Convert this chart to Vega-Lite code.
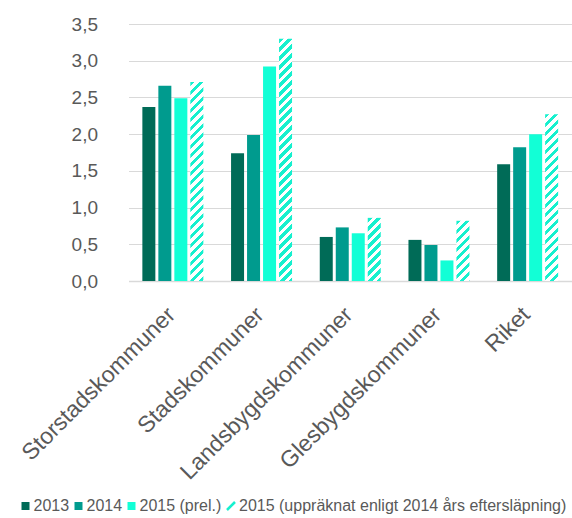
{
  "$schema": "https://vega.github.io/schema/vega-lite/v6.json",
  "autosize": "none",
  "padding": {"left": 128.5, "top": 24, "right": 0, "bottom": 237},
  "width": 443.5,
  "height": 257,
  "background": "white",
  "params": [
    {"name": "hatchStops", "value": [
      {"offset":0,"color":"#16f0ce"},{"offset":0.017241,"color":"#16f0ce"},{"offset":0.017241,"color":"#fff"},{"offset":0.034483,"color":"#fff"},
      {"offset":0.034483,"color":"#16f0ce"},{"offset":0.051724,"color":"#16f0ce"},{"offset":0.051724,"color":"#fff"},{"offset":0.068966,"color":"#fff"},
      {"offset":0.068966,"color":"#16f0ce"},{"offset":0.086207,"color":"#16f0ce"},{"offset":0.086207,"color":"#fff"},{"offset":0.103448,"color":"#fff"},
      {"offset":0.103448,"color":"#16f0ce"},{"offset":0.12069,"color":"#16f0ce"},{"offset":0.12069,"color":"#fff"},{"offset":0.137931,"color":"#fff"},
      {"offset":0.137931,"color":"#16f0ce"},{"offset":0.155172,"color":"#16f0ce"},{"offset":0.155172,"color":"#fff"},{"offset":0.172414,"color":"#fff"},
      {"offset":0.172414,"color":"#16f0ce"},{"offset":0.189655,"color":"#16f0ce"},{"offset":0.189655,"color":"#fff"},{"offset":0.206897,"color":"#fff"},
      {"offset":0.206897,"color":"#16f0ce"},{"offset":0.224138,"color":"#16f0ce"},{"offset":0.224138,"color":"#fff"},{"offset":0.241379,"color":"#fff"},
      {"offset":0.241379,"color":"#16f0ce"},{"offset":0.258621,"color":"#16f0ce"},{"offset":0.258621,"color":"#fff"},{"offset":0.275862,"color":"#fff"},
      {"offset":0.275862,"color":"#16f0ce"},{"offset":0.293103,"color":"#16f0ce"},{"offset":0.293103,"color":"#fff"},{"offset":0.310345,"color":"#fff"},
      {"offset":0.310345,"color":"#16f0ce"},{"offset":0.327586,"color":"#16f0ce"},{"offset":0.327586,"color":"#fff"},{"offset":0.344828,"color":"#fff"},
      {"offset":0.344828,"color":"#16f0ce"},{"offset":0.362069,"color":"#16f0ce"},{"offset":0.362069,"color":"#fff"},{"offset":0.37931,"color":"#fff"},
      {"offset":0.37931,"color":"#16f0ce"},{"offset":0.396552,"color":"#16f0ce"},{"offset":0.396552,"color":"#fff"},{"offset":0.413793,"color":"#fff"},
      {"offset":0.413793,"color":"#16f0ce"},{"offset":0.431034,"color":"#16f0ce"},{"offset":0.431034,"color":"#fff"},{"offset":0.448276,"color":"#fff"},
      {"offset":0.448276,"color":"#16f0ce"},{"offset":0.465517,"color":"#16f0ce"},{"offset":0.465517,"color":"#fff"},{"offset":0.482759,"color":"#fff"},
      {"offset":0.482759,"color":"#16f0ce"},{"offset":0.5,"color":"#16f0ce"},{"offset":0.5,"color":"#fff"},{"offset":0.517241,"color":"#fff"},
      {"offset":0.517241,"color":"#16f0ce"},{"offset":0.534483,"color":"#16f0ce"},{"offset":0.534483,"color":"#fff"},{"offset":0.551724,"color":"#fff"},
      {"offset":0.551724,"color":"#16f0ce"},{"offset":0.568966,"color":"#16f0ce"},{"offset":0.568966,"color":"#fff"},{"offset":0.586207,"color":"#fff"},
      {"offset":0.586207,"color":"#16f0ce"},{"offset":0.603448,"color":"#16f0ce"},{"offset":0.603448,"color":"#fff"},{"offset":0.62069,"color":"#fff"},
      {"offset":0.62069,"color":"#16f0ce"},{"offset":0.637931,"color":"#16f0ce"},{"offset":0.637931,"color":"#fff"},{"offset":0.655172,"color":"#fff"},
      {"offset":0.655172,"color":"#16f0ce"},{"offset":0.672414,"color":"#16f0ce"},{"offset":0.672414,"color":"#fff"},{"offset":0.689655,"color":"#fff"},
      {"offset":0.689655,"color":"#16f0ce"},{"offset":0.706897,"color":"#16f0ce"},{"offset":0.706897,"color":"#fff"},{"offset":0.724138,"color":"#fff"},
      {"offset":0.724138,"color":"#16f0ce"},{"offset":0.741379,"color":"#16f0ce"},{"offset":0.741379,"color":"#fff"},{"offset":0.758621,"color":"#fff"},
      {"offset":0.758621,"color":"#16f0ce"},{"offset":0.775862,"color":"#16f0ce"},{"offset":0.775862,"color":"#fff"},{"offset":0.793103,"color":"#fff"},
      {"offset":0.793103,"color":"#16f0ce"},{"offset":0.810345,"color":"#16f0ce"},{"offset":0.810345,"color":"#fff"},{"offset":0.827586,"color":"#fff"},
      {"offset":0.827586,"color":"#16f0ce"},{"offset":0.844828,"color":"#16f0ce"},{"offset":0.844828,"color":"#fff"},{"offset":0.862069,"color":"#fff"},
      {"offset":0.862069,"color":"#16f0ce"},{"offset":0.87931,"color":"#16f0ce"},{"offset":0.87931,"color":"#fff"},{"offset":0.896552,"color":"#fff"},
      {"offset":0.896552,"color":"#16f0ce"},{"offset":0.913793,"color":"#16f0ce"},{"offset":0.913793,"color":"#fff"},{"offset":0.931034,"color":"#fff"},
      {"offset":0.931034,"color":"#16f0ce"},{"offset":0.948276,"color":"#16f0ce"},{"offset":0.948276,"color":"#fff"},{"offset":0.965517,"color":"#fff"},
      {"offset":0.965517,"color":"#16f0ce"},{"offset":0.982759,"color":"#16f0ce"},{"offset":0.982759,"color":"#fff"},{"offset":1,"color":"#fff"}
    ]}
  ],
  "data": {
    "values": [
      {"region": "Storstadskommuner", "serie": "2013", "v": 2.37},
      {"region": "Storstadskommuner", "serie": "2014", "v": 2.66},
      {"region": "Storstadskommuner", "serie": "2015 (prel.)", "v": 2.49},
      {"region": "Storstadskommuner", "serie": "2015 (uppräknat enligt 2014 års eftersläpning)", "v": 2.71},
      {"region": "Stadskommuner", "serie": "2013", "v": 1.74},
      {"region": "Stadskommuner", "serie": "2014", "v": 1.99},
      {"region": "Stadskommuner", "serie": "2015 (prel.)", "v": 2.92},
      {"region": "Stadskommuner", "serie": "2015 (uppräknat enligt 2014 års eftersläpning)", "v": 3.30},
      {"region": "Landsbygdskommuner", "serie": "2013", "v": 0.60},
      {"region": "Landsbygdskommuner", "serie": "2014", "v": 0.73},
      {"region": "Landsbygdskommuner", "serie": "2015 (prel.)", "v": 0.65},
      {"region": "Landsbygdskommuner", "serie": "2015 (uppräknat enligt 2014 års eftersläpning)", "v": 0.86},
      {"region": "Glesbygdskommuner", "serie": "2013", "v": 0.56},
      {"region": "Glesbygdskommuner", "serie": "2014", "v": 0.49},
      {"region": "Glesbygdskommuner", "serie": "2015 (prel.)", "v": 0.28},
      {"region": "Glesbygdskommuner", "serie": "2015 (uppräknat enligt 2014 års eftersläpning)", "v": 0.82},
      {"region": "Riket", "serie": "2013", "v": 1.59},
      {"region": "Riket", "serie": "2014", "v": 1.82},
      {"region": "Riket", "serie": "2015 (prel.)", "v": 2.00},
      {"region": "Riket", "serie": "2015 (uppräknat enligt 2014 års eftersläpning)", "v": 2.27}
    ]
  },
  "encoding": {
    "x": {
      "field": "region", "type": "nominal", "sort": null,
      "scale": {"paddingInner": 0.3125, "paddingOuter": 0.15625},
      "axis": {
        "title": null, "ticks": false, "domain": true, "domainColor": "#d9d9d9", "domainWidth": 1.5,
        "labelAngle": -45, "labelAlign": "right", "labelBaseline": "top",
        "labelFont": "Liberation Sans", "labelFontSize": 23, "labelColor": "#595959",
        "labelPadding": 22, "labelOffset": -9, "labelLimit": 400
      }
    },
    "xOffset": {
      "field": "serie", "type": "nominal",
      "scale": {"domain": ["2013", "2014", "2015 (prel.)", "2015 (uppräknat enligt 2014 års eftersläpning)"], "paddingInner": 0.1875, "paddingOuter": 0}
    },
    "y": {
      "field": "v", "type": "quantitative",
      "scale": {"domain": [0, 3.5], "nice": false},
      "axis": {
        "title": null, "values": [0, 0.5, 1, 1.5, 2, 2.5, 3, 3.5],
        "labelExpr": "replace(format(datum.value, '.1f'), '.', ',')",
        "ticks": false, "domain": false, "grid": true, "gridColor": "#d9d9d9", "gridWidth": 1,
        "labelFont": "Liberation Sans", "labelFontSize": 19, "labelColor": "#595959", "labelPadding": 31
      }
    }
  },
  "layer": [
    {
      "transform": [{"filter": "datum.serie !== '2015 (uppräknat enligt 2014 års eftersläpning)'"}],
      "mark": {"type": "bar"},
      "encoding": {
        "color": {
          "field": "serie", "type": "nominal",
          "scale": {
            "domain": ["2013", "2014", "2015 (prel.)"],
            "range": ["#006b57", "#009b8e", "#12ffd6"]
          },
          "legend": {
            "title": null, "orient": "none", "direction": "horizontal",
            "legendX": -111, "legendY": 474, "padding": 0,
            "symbolType": "square", "symbolSize": 64, "symbolStrokeWidth": 0,
            "labelFont": "Liberation Sans", "labelFontSize": 16, "labelColor": "#595959",
            "labelOffset": 0, "columnPadding": 1, "labelLimit": 500
          }
        }
      }
    },
    {
      "transform": [{"filter": "datum.serie === '2015 (uppräknat enligt 2014 års eftersläpning)'"}],
      "mark": {
        "type": "bar",
        "fill": {"expr": "{gradient: 'linear', x1: 0, y1: 0, x2: 261 * bandwidth('xOffset') / (pow(bandwidth('xOffset'), 2) + pow(scale('y', 0) - scale('y', datum.v), 2)), y2: 261 * (scale('y', 0) - scale('y', datum.v)) / (pow(bandwidth('xOffset'), 2) + pow(scale('y', 0) - scale('y', datum.v), 2)), stops: hatchStops}"}
      },
      "encoding": {
        "stroke": {
          "field": "serie", "type": "nominal",
          "scale": {"range": ["#16f0ce"]},
          "legend": {
            "title": null, "orient": "none", "direction": "horizontal",
            "legendX": 94.5, "legendY": 474, "padding": 0,
            "symbolType": "M-1,1L1,-1", "symbolSize": 64, "symbolStrokeWidth": 2.5,
            "symbolFillColor": "transparent",
            "labelFont": "Liberation Sans", "labelFontSize": 16, "labelColor": "#595959",
            "labelOffset": 0, "labelLimit": 500
          }
        },
        "strokeOpacity": {"value": 0}
      }
    }
  ],
  "config": {
    "view": {"stroke": null},
    "font": "Liberation Sans"
  }
}
